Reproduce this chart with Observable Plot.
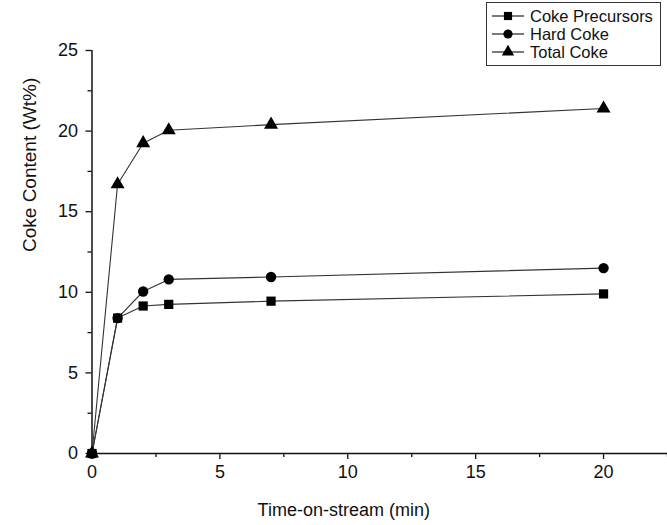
<!DOCTYPE html>
<html>
<head>
<meta charset="utf-8">
<script src="https://cdn.jsdelivr.net/npm/d3@7"></script>
<script src="https://cdn.jsdelivr.net/npm/@observablehq/plot@0.6"></script>
<style>
  html, body { margin: 0; padding: 0; background: #fff; }
  #wrap { position: relative; width: 667px; height: 525px; font-family: "Liberation Sans", Arial, sans-serif; }
  #legend { position: absolute; left: 486px; top: 2px; width: 173px; border: 1px solid #333; background: #fff; padding: 4px 0 4px 0; }
  .row { display: flex; align-items: center; height: 18px; font-size: 16.5px; color: #111; }
  .row svg { margin-left: 3px; margin-right: 4px; }
</style>
</head>
<body>
<div id="wrap"></div>
<script>
const time = [0, 1, 2, 3, 7, 20];
const cokePrecursors = [0, 8.4, 9.15, 9.25, 9.45, 9.9];
const hardCoke = [0, 8.4, 10.05, 10.8, 10.95, 11.5];
const totalCoke = [0, 16.7, 19.25, 20.05, 20.4, 21.4];
const seriesNames = ["Coke Precursors", "Hard Coke", "Total Coke"];
const seriesSymbols = ["square", "circle", "triangle"];
const xTicks = [0, 5, 10, 15, 20];
const yTicks = [0, 5, 10, 15, 20, 25];
const xMinor = [2.5, 7.5, 12.5, 17.5, 22.5];
const yMinor = [2.5, 7.5, 12.5, 17.5, 22.5];

const seriesValues = [cokePrecursors, hardCoke, totalCoke];
const data = [];
seriesNames.forEach((name, i) => {
  time.forEach((t, j) => data.push({series: name, symbol: seriesSymbols[i], time: t, value: seriesValues[i][j]}));
});

const font = "Liberation Sans, Arial, sans-serif";
const chart = Plot.plot({
  width: 667,
  height: 525,
  marginLeft: 91.5,
  marginRight: 0,
  marginTop: 50,
  marginBottom: 72,
  style: {fontFamily: font, fontSize: "18px", color: "#111", background: "#fff"},
  x: {domain: [0, 22.5], label: null},
  y: {domain: [0, 25], label: null},
  marks: [
    Plot.ruleY([0], {stroke: "#111", strokeWidth: 1.5}),
    Plot.ruleX([0], {stroke: "#111", strokeWidth: 1.5}),
    Plot.axisX(xTicks, {tickSize: 6, tickPadding: 6, fontSize: 18, stroke: "#111", strokeWidth: 1.3, label: null}),
    Plot.axisX(xMinor, {tickSize: 4, text: null, stroke: "#111", strokeWidth: 1.3, label: null}),
    Plot.axisY(yTicks, {tickSize: 6, tickPadding: 8, fontSize: 18, stroke: "#111", strokeWidth: 1.3, label: null}),
    Plot.axisY(yMinor, {tickSize: 4, text: null, stroke: "#111", strokeWidth: 1.3, label: null}),
    Plot.line(data, {x: "time", y: "value", z: "series", stroke: "#333", strokeWidth: 1.1}),
    Plot.dot(data, {x: "time", y: "value", symbol: "symbol", fill: "#000", stroke: "none", r: 5.2}),
    Plot.text(["Time-on-stream (min)"], {frameAnchor: "bottom", dx: -36, dy: 62, fontSize: 18, fill: "#111"}),
    Plot.text(["Coke Content (Wt%)"], {frameAnchor: "left", dx: -62, rotate: -90, fontSize: 19, fill: "#111"})
  ]
});
document.getElementById("wrap").appendChild(chart);

const legend = document.createElement("div");
legend.id = "legend";
seriesNames.forEach((name, i) => {
  const row = document.createElement("div");
  row.className = "row";
  const sym = d3.symbol(seriesSymbols[i] === "square" ? d3.symbolSquare : seriesSymbols[i] === "circle" ? d3.symbolCircle : d3.symbolTriangle, Math.PI * 4.6 * 4.6)();
  row.innerHTML = `<svg width="36" height="16" viewBox="0 0 36 16"><line x1="2" x2="34" y1="8" y2="8" stroke="#333" stroke-width="1.3"/><path d="${sym}" transform="translate(18,8)" fill="#000"/></svg><span>${name}</span>`;
  legend.appendChild(row);
});
document.getElementById("wrap").appendChild(legend);
</script>
</body>
</html>
